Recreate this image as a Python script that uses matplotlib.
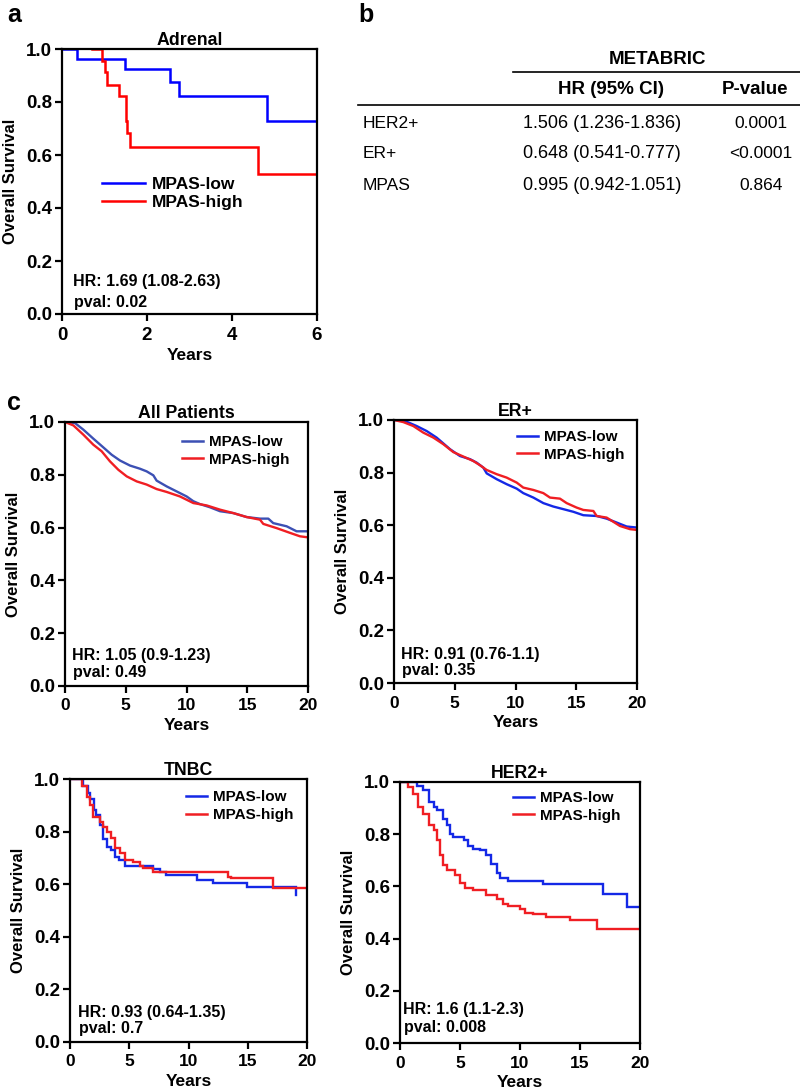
import matplotlib
matplotlib.use("Agg")
import matplotlib.pyplot as plt
from matplotlib.lines import Line2D

plt.rcParams['font.family'] = ['Liberation Sans', 'DejaVu Sans']
plt.rcParams['font.weight'] = 'bold'
plt.rcParams['axes.labelweight'] = 'bold'
plt.rcParams['axes.titleweight'] = 'bold'

# ---------------- data ----------------
# Panel a: Adrenal (times of drops, survival after drop)
adrenal_low_t = [0, 0.35, 1.49, 2.55, 2.76, 4.82, 6.0]
adrenal_low_s = [1.0, 0.963, 0.925, 0.875, 0.821, 0.729, 0.729]
adrenal_high_t = [0.7, 0.94, 1.0, 1.06, 1.33, 1.5, 1.54, 1.59, 4.61, 6.0]
adrenal_high_s = [1.0, 0.956, 0.913, 0.865, 0.821, 0.729, 0.683, 0.632, 0.528, 0.528]

# Panel c: All Patients (large cohort)
all_low_t = [0, 0.82, 1.51, 2.33, 3.15, 3.84, 4.53, 5.35, 6.17, 6.72, 7.27, 7.54, 8.37, 9.19,
             10.01, 10.56, 11.11, 11.93, 12.76, 13.85, 14.95, 16.05, 16.73, 17.14, 18.24,
             19.06, 20.0]
all_low_s = [1.0, 0.996, 0.971, 0.937, 0.904, 0.876, 0.854, 0.835, 0.823, 0.813, 0.798, 0.778,
             0.756, 0.737, 0.718, 0.700, 0.689, 0.677, 0.662, 0.655, 0.640, 0.634, 0.634,
             0.617, 0.605, 0.586, 0.586]
all_high_t = [0, 0.69, 1.51, 2.33, 3.02, 3.70, 4.39, 5.08, 5.90, 6.72, 7.54, 8.37, 9.46, 10.56,
              11.66, 12.76, 13.85, 14.95, 16.05, 16.32, 17.42, 18.52, 19.34, 20.0]
all_high_s = [1.0, 0.987, 0.952, 0.914, 0.889, 0.851, 0.819, 0.794, 0.775, 0.763, 0.746, 0.735,
              0.718, 0.693, 0.684, 0.668, 0.655, 0.640, 0.630, 0.614, 0.598, 0.580, 0.567,
              0.563]

# ER+ (large cohort)
er_low_t = [0, 0.91, 1.87, 2.69, 3.51, 4.06, 4.61, 5.43, 6.26, 6.80, 7.35, 7.63, 8.45, 9.27,
            10.1, 10.64, 11.47, 12.29, 13.11, 13.94, 14.76, 15.58, 16.68, 17.5, 18.33, 19.15,
            20.0]
er_low_s = [1.0, 0.996, 0.977, 0.958, 0.933, 0.911, 0.889, 0.863, 0.851, 0.838, 0.819, 0.797,
            0.775, 0.756, 0.739, 0.722, 0.705, 0.684, 0.671, 0.661, 0.651, 0.638, 0.635,
            0.625, 0.610, 0.595, 0.591]
er_high_t = [0, 0.77, 1.59, 2.41, 3.24, 4.06, 4.88, 5.71, 6.53, 7.08, 7.63, 8.45, 9.27, 10.1,
             10.64, 11.47, 12.29, 12.84, 13.66, 14.21, 15.03, 15.58, 16.41, 16.68, 17.5,
             18.05, 18.6, 19.42, 20.0]
er_high_s = [1.0, 0.992, 0.977, 0.952, 0.933, 0.908, 0.878, 0.861, 0.844, 0.828, 0.810, 0.794,
             0.781, 0.762, 0.743, 0.734, 0.722, 0.705, 0.701, 0.684, 0.667, 0.658, 0.654,
             0.635, 0.629, 0.613, 0.597, 0.585, 0.582]

# TNBC (times of drops, survival after drop)
tn_low_t = [0, 0.7, 1.1, 1.5, 1.7, 2.0, 2.2, 2.5, 2.8, 3.1, 3.5, 3.8, 4.1, 4.6, 7.0, 7.6,
            8.1, 10.7, 12.1, 14.9, 19.1]
tn_low_s = [1.0, 1.0, 0.973, 0.948, 0.925, 0.882, 0.863, 0.825, 0.772, 0.74, 0.73, 0.704,
            0.692, 0.669, 0.656, 0.647, 0.635, 0.615, 0.603, 0.59, 0.558]
tn_high_t = [0, 0.56, 1.0, 1.4, 1.7, 1.9, 2.5, 2.8, 3.1, 3.5, 3.8, 4.2, 4.6, 5.3, 5.9, 6.2,
             7.0, 13.3, 13.6, 17.1, 20.0]
tn_high_s = [1.0, 1.0, 0.975, 0.933, 0.9, 0.857, 0.838, 0.819, 0.8, 0.774, 0.736, 0.717,
             0.692, 0.685, 0.669, 0.66, 0.647, 0.626, 0.622, 0.584, 0.584]

# HER2+ (times of drops, survival after drop)
her_low_t = [0, 0.83, 1.4, 1.9, 2.4, 2.8, 3.1, 3.6, 3.9, 4.2, 4.4, 5.3, 5.7, 6.1, 6.7, 7.2,
             7.6, 8.1, 8.3, 9.0, 11.9, 16.9, 18.9, 20.0]
her_low_s = [1.0, 1.0, 0.985, 0.968, 0.923, 0.904, 0.891, 0.86, 0.834, 0.8, 0.789, 0.776,
             0.755, 0.745, 0.738, 0.719, 0.687, 0.651, 0.633, 0.621, 0.608, 0.572, 0.521, 0.521]
her_high_t = [0, 0.3, 0.7, 1.1, 1.5, 1.9, 2.4, 2.8, 3.1, 3.3, 3.6, 3.9, 4.6, 5.0, 5.4, 6.1,
              7.2, 8.1, 8.6, 9.0, 10.0, 10.4, 11.1, 12.2, 14.2, 16.4, 20.0]
her_high_s = [1.0, 1.0, 0.98, 0.955, 0.904, 0.879, 0.834, 0.815, 0.776, 0.719, 0.681, 0.662,
              0.642, 0.613, 0.595, 0.585, 0.566, 0.553, 0.534, 0.525, 0.515, 0.499, 0.493,
              0.483, 0.47, 0.438, 0.438]

legend_labels = ["MPAS-low", "MPAS-high"]

table_title = "METABRIC"
table_cols = ["HR (95% CI)", "P-value"]
table_rows = ["HER2+", "ER+", "MPAS"]
table_hr = ["1.506 (1.236-1.836)", "0.648 (0.541-0.777)", "0.995 (0.942-1.051)"]
table_p = ["0.0001", "<0.0001", "0.864"]

# ---------------- figure ----------------
W, H = 800, 1089
fig = plt.figure(figsize=(W / 100, H / 100), dpi=100)


def ax_px(l, t, r, b):
    return fig.add_axes([l / W, 1 - b / H, (r - l) / W, (b - t) / H])


def style(ax, xmax, xticks, title, xfs=12.5):
    ax.set_xlim(0, xmax)
    ax.set_ylim(0, 1.0)
    ax.set_xticks(xticks)
    yt = [0, 0.2, 0.4, 0.6, 0.8, 1.0]
    ax.set_yticks(yt)
    ax.set_yticklabels([f"{v:.1f}" for v in yt])
    for sp in ax.spines.values():
        sp.set_linewidth(1.6)
    ax.tick_params(direction='out', length=5, width=1.6)
    ax.tick_params(axis='x', labelsize=xfs, pad=4)
    ax.tick_params(axis='y', labelsize=13.5, pad=2)
    ax.set_xlabel("Years", fontsize=12.5, labelpad=3)
    ax.set_ylabel("Overall Survival", fontsize=12, labelpad=6)
    ax.set_title(title, fontsize=12.8, pad=3)


def km(ax, t, s, color, lw=1.7, step=True):
    if step:
        ax.step(t, s, where='post', color=color, lw=lw, solid_joinstyle='miter')
    else:
        ax.plot(t, s, color=color, lw=lw)


def add_legend(ax, cl, ch, x, y, fs, hl, spacing):
    handles = [Line2D([], [], color=cl, lw=1.8), Line2D([], [], color=ch, lw=1.8)]
    ax.legend(handles, legend_labels, loc='upper left', bbox_to_anchor=(x, y),
              frameon=False, fontsize=fs, handlelength=hl, handletextpad=0.35,
              borderpad=0, borderaxespad=0, labelspacing=spacing)


def add_hr(ax, x, y1, y2, hr, pv):
    ax.text(x, y1, hr, transform=ax.transAxes, fontsize=11.5, va='center', ha='left')
    ax.text(x + 0.004, y2, pv, transform=ax.transAxes, fontsize=11.5, va='center', ha='left')


# Panel a
axa = ax_px(62, 49, 317, 314)
km(axa, adrenal_low_t, adrenal_low_s, '#0000ff', 1.8)
km(axa, adrenal_high_t, adrenal_high_s, '#ff0000', 1.8)
style(axa, 6, [0, 2, 4, 6], "Adrenal", xfs=13.5)
add_legend(axa, '#0000ff', '#ff0000', 0.157, 0.518, 12.5, 2.5, 0.15)
add_hr(axa, 0.043, 0.121, 0.045, "HR: 1.69 (1.08-2.63)", "pval: 0.02")

RED = '#f01e23'
BLUE = '#1428e6'
BLUE_ALL = '#3c50b4'

# All patients
ax1 = ax_px(65, 422, 308, 686)
km(ax1, all_low_t, all_low_s, BLUE_ALL, step=False)
km(ax1, all_high_t, all_high_s, RED, step=False)
style(ax1, 20, [0, 5, 10, 15, 20], "All Patients")
add_legend(ax1, BLUE_ALL, RED, 0.481, 0.951, 11, 1.4, 0.25)
add_hr(ax1, 0.029, 0.114, 0.053, "HR: 1.05 (0.9-1.23)", "pval: 0.49")

# ER+
ax2 = ax_px(394, 420, 637, 683)
km(ax2, er_low_t, er_low_s, BLUE, step=False)
km(ax2, er_high_t, er_high_s, RED, step=False)
style(ax2, 20, [0, 5, 10, 15, 20], "ER+")
add_legend(ax2, BLUE, RED, 0.506, 0.962, 11, 1.4, 0.25)
add_hr(ax2, 0.029, 0.110, 0.049, "HR: 0.91 (0.76-1.1)", "pval: 0.35")

# TNBC
ax3 = ax_px(70, 779, 307, 1042)
km(ax3, tn_low_t, tn_low_s, BLUE)
km(ax3, tn_high_t, tn_high_s, RED)
style(ax3, 20, [0, 5, 10, 15, 20], "TNBC")
add_legend(ax3, BLUE, RED, 0.489, 0.958, 11, 1.4, 0.25)
add_hr(ax3, 0.034, 0.114, 0.053, "HR: 0.93 (0.64-1.35)", "pval: 0.7")

# HER2+
ax4 = ax_px(400, 782, 640, 1043)
km(ax4, her_low_t, her_low_s, BLUE)
km(ax4, her_high_t, her_high_s, RED)
style(ax4, 20, [0, 5, 10, 15, 20], "HER2+")
add_legend(ax4, BLUE, RED, 0.471, 0.966, 11, 1.4, 0.25)
add_hr(ax4, 0.013, 0.130, 0.061, "HR: 1.6 (1.1-2.3)", "pval: 0.008")


def ftext(x, y, s, **kw):
    fig.text(x / W, 1 - y / H, s, **kw)


# Panel labels
ftext(7, 22, "a", fontsize=18, va='baseline', ha='left')
ftext(358, 22, "b", fontsize=18, va='baseline', ha='left')
ftext(7, 410, "c", fontsize=18, va='baseline', ha='left')

# Panel b table
ftext(658, 60, table_title, fontsize=13.5, ha='center', va='center')
fig.add_artist(Line2D([513 / W, 800 / W], [1 - 72 / H, 1 - 72 / H], color='black', lw=1.2))
ftext(611, 89, table_cols[0], fontsize=13.5, ha='center', va='center')
ftext(755, 89, table_cols[1], fontsize=13.5, ha='center', va='center')
fig.add_artist(Line2D([358 / W, 800 / W], [1 - 105 / H, 1 - 105 / H], color='black', lw=1.2))
row_y = [124, 154, 185]
for lab, hr, p, y in zip(table_rows, table_hr, table_p, row_y):
    ftext(363, y, lab, fontsize=12.5, ha='left', va='center', fontweight='normal')
    ftext(602, y, hr, fontsize=13, ha='center', va='center', fontweight='normal')
    ftext(761, y, p, fontsize=12.5, ha='center', va='center', fontweight='normal')

fig.savefig("out.png", dpi=100)
